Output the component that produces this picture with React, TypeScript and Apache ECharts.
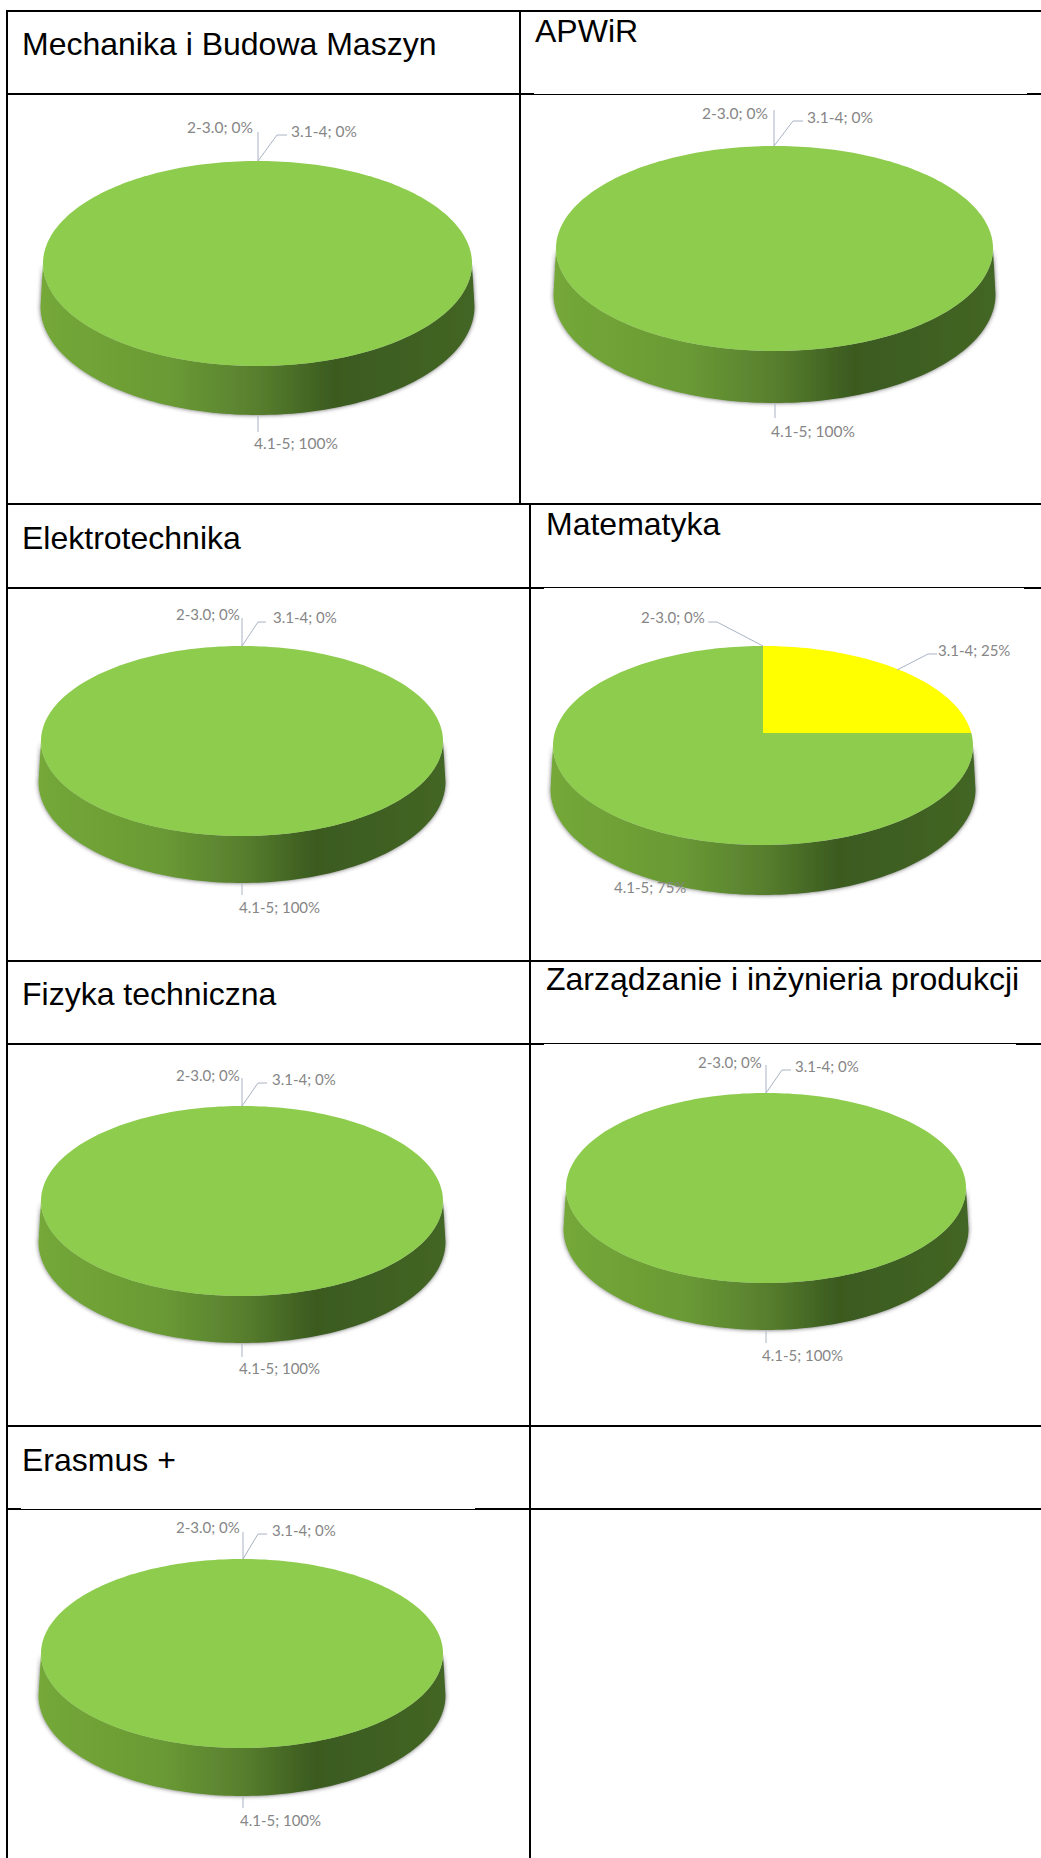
import React, { useEffect, useRef } from "react";
import * as echarts from "echarts";

// Grade bands shown in every pie
const gradeBands = ["2-3.0", "3.1-4", "4.1-5"];

// Share of students per band, in percent, for each field of study
const mechanikaShares = [0, 0, 100];
const apwirShares = [0, 0, 100];
const elektrotechnikaShares = [0, 0, 100];
const matematykaShares = [0, 25, 75];
const fizykaShares = [0, 0, 100];
const zarzadzanieShares = [0, 0, 100];
const erasmusShares = [0, 0, 100];

const fieldNames = [
  "Mechanika i Budowa Maszyn",
  "APWiR",
  "Elektrotechnika",
  "Matematyka",
  "Fizyka techniczna",
  "Zarządzanie i inżynieria produkcji",
  "Erasmus +",
];

const fieldShares = [
  mechanikaShares,
  apwirShares,
  elektrotechnikaShares,
  matematykaShares,
  fizykaShares,
  zarzadzanieShares,
  erasmusShares,
];

const bandColors = ["#4F81BD", "#FFFF00", "#8ECC4E"];

const WIDTH = 1041;
const HEIGHT = 1858;
const LABEL_FONT = "Lato";
const LABEL_COLOR = "#868686";
const LEADER_COLOR = "#a9b3c4";

// Title anchors: left edge and text baseline of each header cell
const titleAnchors = [
  [22, 55],
  [535, 42],
  [22, 549],
  [546, 535],
  [22, 1005],
  [546, 990],
  [22, 1471],
];

type Pt = number[];
interface PieLayout {
  cx: number;
  cy: number;
  rx: number;
  ry: number;
  depth: number;
  labelSize: number;
  labels: Pt[];
  leaders: Pt[][];
}

// Placement of each tilted pie, its value labels and leader lines
const pieLayouts: PieLayout[] = [
  {
    cx: 257.5, cy: 263.5, rx: 214.5, ry: 102.5, depth: 49, labelSize: 15.5,
    labels: [[187, 127], [291, 131], [254, 443]],
    leaders: [
      [[258, 132], [258, 161]],
      [[258, 161], [277, 135], [287, 135]],
      [[258, 416], [258, 432]],
    ],
  },
  {
    cx: 774.5, cy: 248.5, rx: 218.5, ry: 102.5, depth: 52, labelSize: 15.5,
    labels: [[702, 113], [807, 117], [771, 431]],
    leaders: [
      [[774, 110], [774, 146]],
      [[774, 146], [793, 121], [803, 121]],
      [[775, 404], [775, 418]],
    ],
  },
  {
    cx: 242, cy: 741, rx: 201, ry: 95, depth: 47, labelSize: 15,
    labels: [[176, 614], [273, 617], [239, 907]],
    leaders: [
      [[242, 618], [242, 646]],
      [[242, 646], [258, 622], [266, 622]],
      [[242, 884], [242, 895]],
    ],
  },
  {
    cx: 763, cy: 745.5, rx: 210, ry: 99.5, depth: 50, labelSize: 15,
    labels: [[641, 617], [938, 650], [614, 887]],
    leaders: [
      [[708, 622], [717, 622], [763, 646]],
      [[937, 654], [928, 654], [897, 670]],
      [],
    ],
  },
  {
    cx: 242, cy: 1201, rx: 201, ry: 95, depth: 47, labelSize: 15,
    labels: [[176, 1075], [272, 1079], [239, 1368]],
    leaders: [
      [[242, 1078], [242, 1106]],
      [[242, 1106], [258, 1083], [267, 1083]],
      [[242, 1344], [242, 1357]],
    ],
  },
  {
    cx: 766, cy: 1188, rx: 200, ry: 95, depth: 47, labelSize: 15,
    labels: [[698, 1062], [795, 1066], [762, 1355]],
    leaders: [
      [[766, 1065], [766, 1093]],
      [[766, 1093], [782, 1070], [791, 1070]],
      [[766, 1331], [766, 1343]],
    ],
  },
  {
    cx: 242, cy: 1653.5, rx: 201, ry: 94.5, depth: 48, labelSize: 15,
    labels: [[176, 1527], [272, 1530], [240, 1820]],
    leaders: [
      [[243, 1532], [243, 1559]],
      [[243, 1559], [258, 1534], [267, 1534]],
      [[243, 1797], [243, 1808]],
    ],
  },
];

// Table rules as [x, y, width, height]
const tableRules = [
  [7, 10, 1034, 2],
  [7, 93, 527, 2],
  [534, 94, 493, 1],
  [1027, 93, 14, 2],
  [7, 503, 1034, 2],
  [7, 587, 537, 2],
  [544, 587, 480, 1],
  [1024, 587, 17, 2],
  [7, 960, 1034, 2],
  [7, 1043, 537, 2],
  [544, 1043, 472, 1],
  [1016, 1043, 25, 2],
  [7, 1425, 1034, 2],
  [7, 1508, 14, 2],
  [21, 1509, 454, 1],
  [475, 1508, 566, 2],
  [6, 10, 2, 1848],
  [519, 10, 2, 494],
  [529, 504, 2, 1354],
];

const rad = (deg: number) => (deg * Math.PI) / 180;

// Face outline point for a pie angle measured clockwise from twelve o'clock.
// The apex sits above the ellipse centre, as a foreshortened disc would show it.
function facePoint(p: PieLayout, apexY: number, theta: number): Pt {
  const ux = Math.sin(rad(theta));
  const uy = -Math.cos(rad(theta));
  const oy = (apexY - p.cy) / p.ry;
  const b = 2 * oy * uy;
  const c = oy * oy - 1;
  const t = (-b + Math.sqrt(b * b - 4 * c)) / 2;
  return [p.cx + p.rx * ux * t, p.cy + p.ry * (oy + uy * t)];
}

function sliceElements(p: PieLayout, shares: number[], index: number) {
  const total = shares.reduce((s, v) => s + v, 0);
  const before = shares.slice(0, index).reduce((s, v) => s + v, 0);
  const start = (before / total) * 360;
  const end = ((before + shares[index]) / total) * 360;
  const apexY = p.cy - p.ry * 0.125;
  const children: any[] = [];

  if (end > start) {
    // Side wall: only the arc on the near half of the disc is visible
    const phiStart = Math.max(start - 90, 0);
    const phiEnd = Math.min(end - 90, 180);
    if (phiEnd > phiStart) {
      const rxB = p.rx + 2.5;
      const ryB = p.ry + 6;
      const cyB = p.cy + p.depth - 6;
      const lower: Pt[] = [];
      const upper: Pt[] = [];
      for (let f = phiStart; f <= phiEnd + 0.01; f += 1.5) {
        lower.push([p.cx + rxB * Math.cos(rad(f)), cyB + ryB * Math.sin(rad(f))]);
        upper.unshift([p.cx + p.rx * Math.cos(rad(f)), p.cy + p.ry * Math.sin(rad(f))]);
      }
      children.push({
        type: "polygon",
        shape: { points: lower.concat(upper) },
        style: {
          fill: new echarts.graphic.LinearGradient(
            p.cx - rxB, 0, p.cx + rxB, 0,
            [
              { offset: 0, color: "#74A838" },
              { offset: 0.3, color: "#6A9A35" },
              { offset: 0.5, color: "#587F2E" },
              { offset: 0.68, color: "#3A5A1F" },
              { offset: 1, color: "#436625" },
            ],
            true,
          ),
          shadowBlur: 4,
          shadowColor: "rgba(50,50,50,0.75)",
        },
      });
    }

    // Top face of the slice
    const face: Pt[] = [];
    for (let th = start; th < end; th += 1.5) face.push(facePoint(p, apexY, th));
    face.push(facePoint(p, apexY, end));
    if (end - start < 360) face.push([p.cx, apexY]);
    children.push({
      type: "polygon",
      shape: { points: face },
      style: { fill: bandColors[index] },
    });
  }

  const leader = p.leaders[index];
  if (leader.length) {
    children.push({
      type: "polyline",
      shape: { points: leader },
      style: { fill: "none", stroke: LEADER_COLOR, lineWidth: 1 },
    });
  }

  const [lx, ly] = p.labels[index];
  children.push({
    type: "text",
    style: {
      text: `${gradeBands[index]}; ${shares[index]}%`,
      x: lx,
      y: ly,
      textAlign: "left",
      textVerticalAlign: "middle",
      fontFamily: LABEL_FONT,
      fontSize: p.labelSize,
      fill: LABEL_COLOR,
    },
  });

  return { type: "group", children };
}

export default function App() {
  const ref = useRef<HTMLDivElement>(null);

  useEffect(() => {
    const chart = echarts.init(ref.current!, null, { renderer: "svg" });
    chart.setOption({
      animation: false,
      backgroundColor: "#ffffff",
      title: fieldNames.map((name, i) => ({
        text: name,
        left: titleAnchors[i][0],
        top: titleAnchors[i][1] - 27,
        padding: 0,
        textStyle: {
          fontFamily: "Liberation Sans",
          fontSize: 32,
          fontWeight: "normal",
          color: "#000000",
        },
      })),
      graphic: tableRules.map(([x, y, width, height]) => ({
        type: "rect",
        silent: true,
        shape: { x, y, width, height },
        style: { fill: "#000000" },
      })),
      series: pieLayouts.map((layout, i) => ({
        type: "custom",
        name: fieldNames[i],
        coordinateSystem: "none",
        silent: true,
        data: fieldShares[i].map((v, j) => ({ name: gradeBands[j], value: v })),
        renderItem: (params: any) => sliceElements(layout, fieldShares[i], params.dataIndex),
      })),
    });
    return () => chart.dispose();
  }, []);

  return (
    <div
      ref={ref}
      style={{ position: "absolute", left: 0, top: 0, width: WIDTH, height: HEIGHT }}
    />
  );
}
